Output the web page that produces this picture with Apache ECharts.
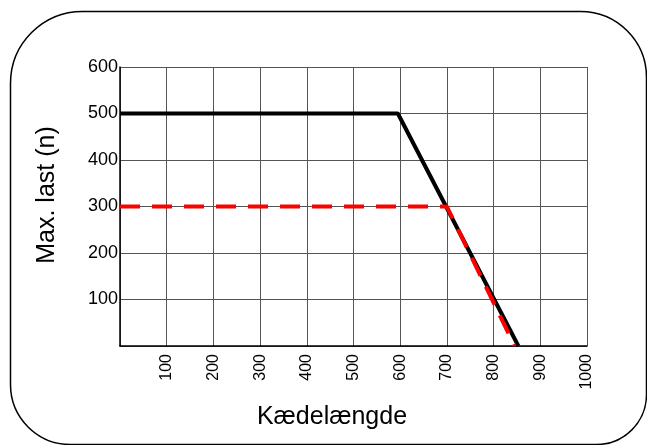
<!DOCTYPE html>
<html>
<head>
<meta charset="utf-8">
<script src="https://cdn.jsdelivr.net/npm/echarts@6/dist/echarts.min.js"></script>
<style>
html,body{margin:0;padding:0;background:#fff;}
#chart{width:647px;height:445px;}
</style>
</head>
<body>
<div id="chart"></div>
<script>
var xTicks = [0,100,200,300,400,500,600,700,800,900,1000];
var yTicks = [0,100,200,300,400,500,600];
var blackX = [0, 595, 853];
var blackY = [500, 500, 0];
var redX = [0, 700, 845];
var redY = [300, 300, 0];
var xName = 'Kædelængde';
var yName = 'Max. last (n)';

function pairs(xs, ys){ return xs.map(function(x,i){ return [x, ys[i]]; }); }

var chart = echarts.init(document.getElementById('chart'));
chart.setOption({
  animation: false,
  backgroundColor: '#fff',
  grid: { left: 120, right: 60, top: 67, bottom: 99 },
  xAxis: {
    type: 'value', min: 0, max: 1000, interval: 100,
    axisLine: { show: true, lineStyle: { color: '#000', width: 1.5 } },
    axisTick: { show: false },
    splitLine: { show: true, lineStyle: { color: '#555', width: 1 } },
    axisLabel: {
      rotate: 90, margin: 8, color: '#000', fontSize: 16,
      fontFamily: 'Liberation Sans, Arial, sans-serif',
      showMinLabel: false,
      formatter: function(v){ return v === 0 ? '' : String(v); }
    }
  },
  yAxis: {
    type: 'value', min: 0, max: 600, interval: 100,
    axisLine: { show: true, lineStyle: { color: '#000', width: 1.5 } },
    axisTick: { show: false },
    splitLine: { show: true, lineStyle: { color: '#555', width: 1 } },
    axisLabel: {
      margin: 2, color: '#000', fontSize: 18,
      fontFamily: 'Liberation Sans, Arial, sans-serif',
      showMinLabel: false,
      formatter: function(v){ return v === 0 ? '' : String(v); }
    }
  },
  series: [
    {
      type: 'line', data: pairs(redX, redY), symbol: 'none', z: 3,
      lineStyle: { color: '#ff0000', width: 4, type: [20, 12] }
    },
    {
      type: 'line', data: pairs(blackX, blackY), symbol: 'none', z: 2,
      lineStyle: { color: '#000', width: 4 }
    }
  ],
  graphic: [
    {
      type: 'rect', left: 8, top: 9, z: -10, silent: true,
      shape: { width: 636, height: 433, r: [72, 66, 50, 60] },
      style: { fill: 'none', stroke: '#000', lineWidth: 1.5 }
    },
    {
      type: 'text', x: 47, y: 195, rotation: Math.PI / 2,
      style: { text: yName, fill: '#000', fontSize: 25,
        fontFamily: 'Liberation Sans, Arial, sans-serif',
        align: 'center', verticalAlign: 'middle' }
    },
    {
      type: 'text', x: 332, y: 417,
      style: { text: xName, fill: '#000', fontSize: 25,
        fontFamily: 'Liberation Sans, Arial, sans-serif',
        align: 'center', verticalAlign: 'middle' }
    }
  ]
});
</script>
</body>
</html>
